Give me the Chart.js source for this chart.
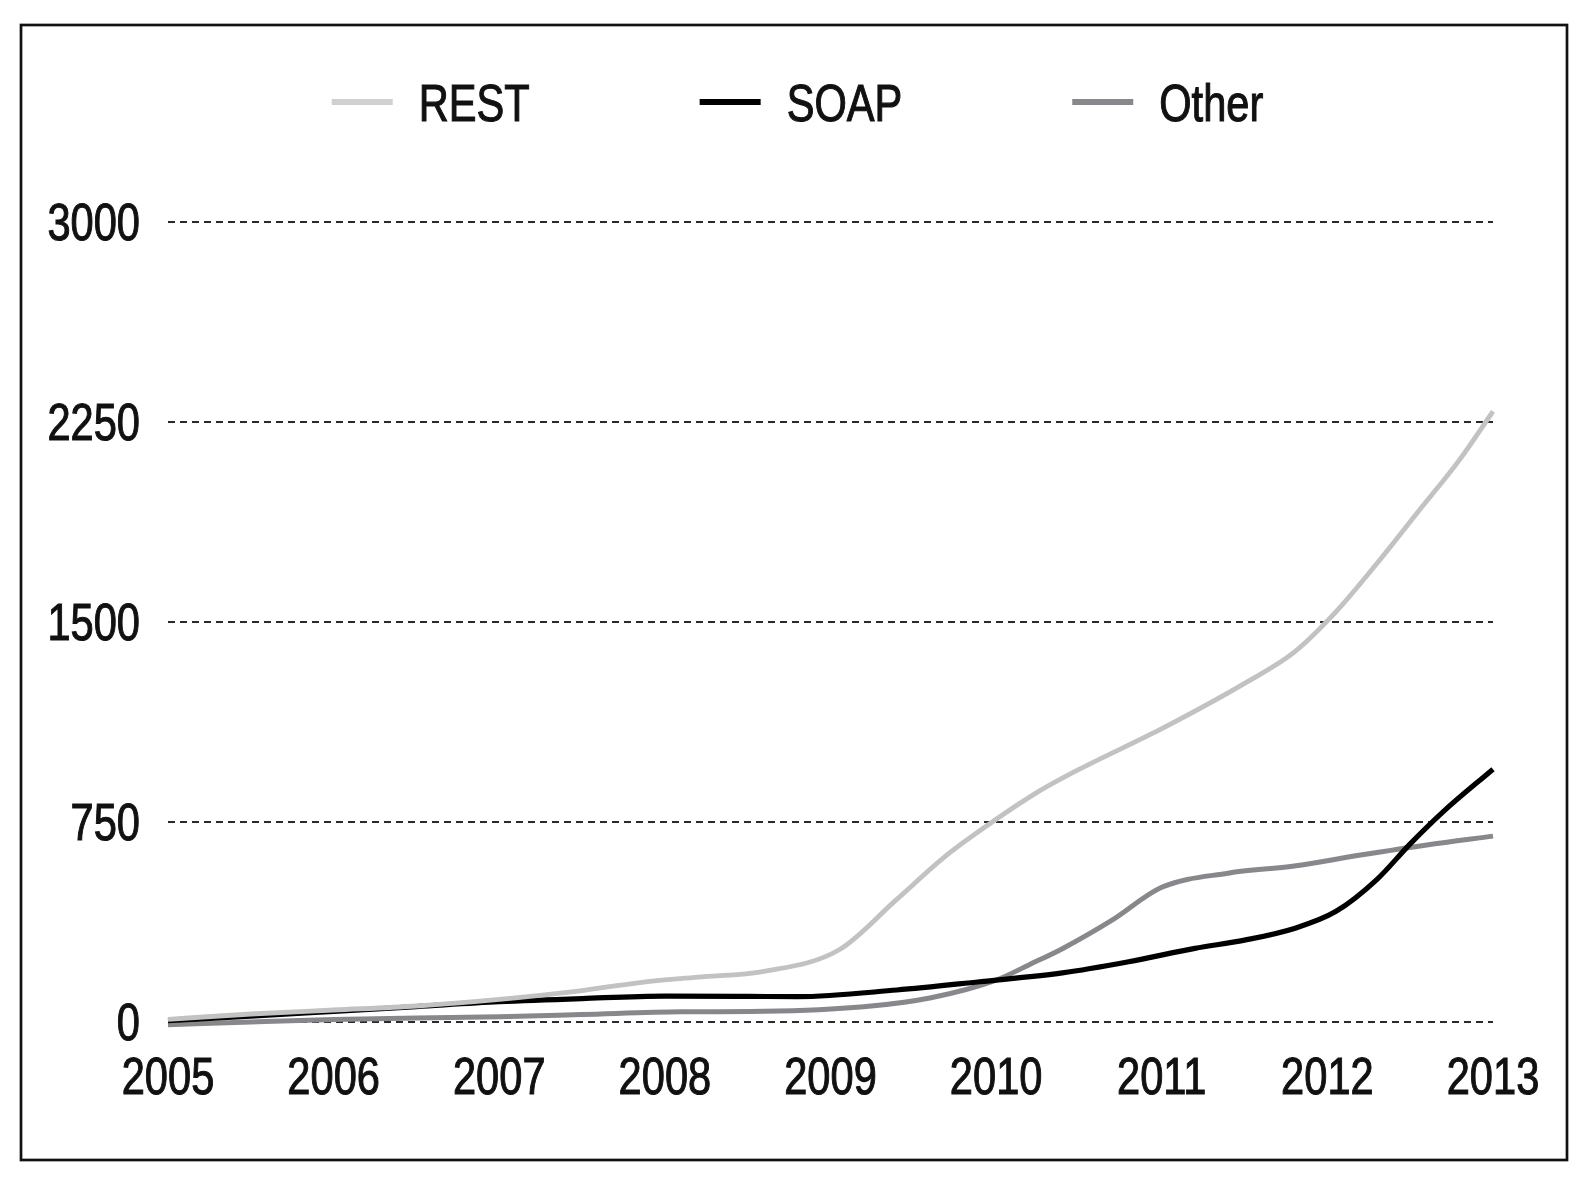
<!DOCTYPE html>
<html>
<head>
<meta charset="utf-8">
<title>REST / SOAP / Other</title>
<script src="https://cdn.jsdelivr.net/npm/chart.js@4.4.1/dist/chart.umd.min.js"></script>
<style>
  html, body { margin: 0; padding: 0; background: #fff; }
  #wrap { width: 1595px; height: 1180px; }
</style>
</head>
<body>
<div id="wrap"><canvas id="apiChart" width="1595" height="1180"></canvas></div>
<script>
// x axis labels and y ticks
const years  = ['2005', '2006', '2007', '2008', '2009', '2010', '2011', '2012', '2013'];
const yTicks = [0, 750, 1500, 2250, 3000];

// series (x in decimal years)
const restX  = [2005, 2005.5, 2006, 2006.5, 2007, 2007.5, 2007.85, 2008.2, 2008.6, 2009.05, 2009.4, 2009.7, 2010, 2010.25, 2010.5, 2011, 2011.5, 2011.8, 2012.05, 2012.3, 2012.55, 2012.8, 2013];
const restY  = [10, 30, 45, 60, 85, 118, 148, 168, 190, 270, 460, 625, 760, 862, 947, 1100, 1270, 1387, 1537, 1720, 1915, 2110, 2290];

const soapX  = [2005, 2005.5, 2006, 2006.5, 2007, 2007.5, 2008, 2008.5, 2008.8, 2009.4, 2009.9, 2010.4, 2010.8, 2011.2, 2011.5, 2011.8, 2012.05, 2012.3, 2012.5, 2012.7, 2013];
const soapY  = [5, 22, 40, 58, 76, 88, 97, 96, 95, 120, 151, 184, 226, 276, 307, 351, 414, 535, 668, 789, 948];

const otherX = [2005, 2005.5, 2006, 2006.5, 2007, 2007.5, 2008.1, 2008.6, 2009.2, 2009.6, 2010, 2010.2, 2010.4, 2010.7, 2011, 2011.4, 2011.8, 2012.2, 2012.6, 2013];
const otherY = [-10, 0, 9, 15, 20, 28, 38, 40, 57, 90, 157, 215, 275, 382, 505, 558, 585, 626, 664, 697];

// condensed look: no narrow face is installed, so squeeze Liberation Sans
const FONT = "52px 'Liberation Sans', Arial, sans-serif";
const SQUEEZE = 0.8;
const INK = '#111';

const toPoints = (xs, ys) => xs.map((x, i) => ({ x: x, y: ys[i] }));

function narrowText(ctx, text, x, y, align) {
    ctx.save();
    ctx.translate(x, y);
    ctx.scale(SQUEEZE, 1);
    ctx.textAlign = align;
    ctx.textBaseline = 'alphabetic';
    ctx.fillText(text, 0, 0);
    ctx.lineWidth = 1.1;       // a touch heavier, like the original face
    ctx.strokeStyle = ctx.fillStyle;
    ctx.strokeText(text, 0, 0);
    ctx.restore();
}

// frame round the whole figure
const framePlugin = {
    id: 'frame',
    beforeDraw(chart) {
        const ctx = chart.ctx;
        ctx.save();
        ctx.fillStyle = '#fff';
        ctx.fillRect(0, 0, chart.width, chart.height);
        ctx.strokeStyle = INK;
        ctx.lineWidth = 2.7;
        ctx.strokeRect(21, 25, 1546, 1135);
        ctx.restore();
    }
};

// tick labels, placed from the scales
const tickLabelPlugin = {
    id: 'tickLabels',
    afterDraw(chart) {
        const { ctx, chartArea, scales: { x, y } } = chart;
        ctx.save();
        ctx.font = FONT;
        ctx.fillStyle = INK;
        y.ticks.forEach(t => {
            narrowText(ctx, String(t.value), chartArea.left - 28, y.getPixelForValue(t.value) + 18, 'right');
        });
        x.ticks.forEach((t, i) => {
            narrowText(ctx, years[i], x.getPixelForValue(t.value), chartArea.bottom + 72, 'center');
        });
        ctx.restore();
    }
};

// legend row: line swatch + label, centred at the top
const legendPlugin = {
    id: 'lineLegend',
    afterDraw(chart) {
        const ctx = chart.ctx;
        const o = chart.options.plugins.lineLegend;
        ctx.save();
        ctx.font = FONT;
        const items = chart.data.datasets.map(ds => ({
            text: ds.label,
            color: ds.legendColor || ds.borderColor,
            w: o.boxWidth + o.gap + ctx.measureText(ds.label).width * SQUEEZE
        }));
        const total = items.reduce((s, it) => s + it.w, 0) + o.padding * (items.length - 1);
        let x = chart.width / 2 - total / 2;
        items.forEach(it => {
            ctx.fillStyle = it.color;
            ctx.fillRect(x, o.y - o.boxHeight / 2, o.boxWidth, o.boxHeight);
            ctx.fillStyle = INK;
            narrowText(ctx, it.text, x + o.boxWidth + o.gap, o.y + 19, 'left');
            x += it.w + o.padding;
        });
        ctx.restore();
    }
};

new Chart(document.getElementById('apiChart'), {
    type: 'line',
    data: {
        datasets: [
            {
                label: 'REST',
                data: toPoints(restX, restY),
                borderColor: '#c2c2c2',
                legendColor: '#d0d0d0',
                borderWidth: 4.8
            },
            {
                label: 'SOAP',
                data: toPoints(soapX, soapY),
                borderColor: '#000000',
                borderWidth: 5.2
            },
            {
                label: 'Other',
                data: toPoints(otherX, otherY),
                borderColor: '#88888c',
                borderWidth: 5
            }
        ]
    },
    options: {
        responsive: false,
        animation: false,
        devicePixelRatio: 1,
        layout: { padding: { left: 0, right: 102, top: 222, bottom: 0 } },
        elements: {
            point: { radius: 0 },
            line: { cubicInterpolationMode: 'monotone', fill: false }
        },
        datasets: { line: { clip: false } },
        plugins: {
            legend: { display: false },
            tooltip: { enabled: false },
            lineLegend: { y: 102, boxWidth: 61, boxHeight: 6, gap: 26, padding: 170 }
        },
        scales: {
            x: {
                type: 'linear',
                min: 2005,
                max: 2013,
                afterFit: s => { s.height = 158; },
                afterBuildTicks: s => { s.ticks = years.map(v => ({ value: Number(v) })); },
                ticks: { display: false },
                grid: { display: false },
                border: { display: false }
            },
            y: {
                min: 0,
                max: 3000,
                afterFit: s => { s.width = 168; },
                afterBuildTicks: s => { s.ticks = yTicks.map(v => ({ value: v })); },
                ticks: { display: false },
                grid: { color: '#2a2a2a', lineWidth: 2, drawTicks: false },
                border: { display: false, dash: [7, 5] }
            }
        }
    },
    plugins: [framePlugin, tickLabelPlugin, legendPlugin]
});
</script>
</body>
</html>
